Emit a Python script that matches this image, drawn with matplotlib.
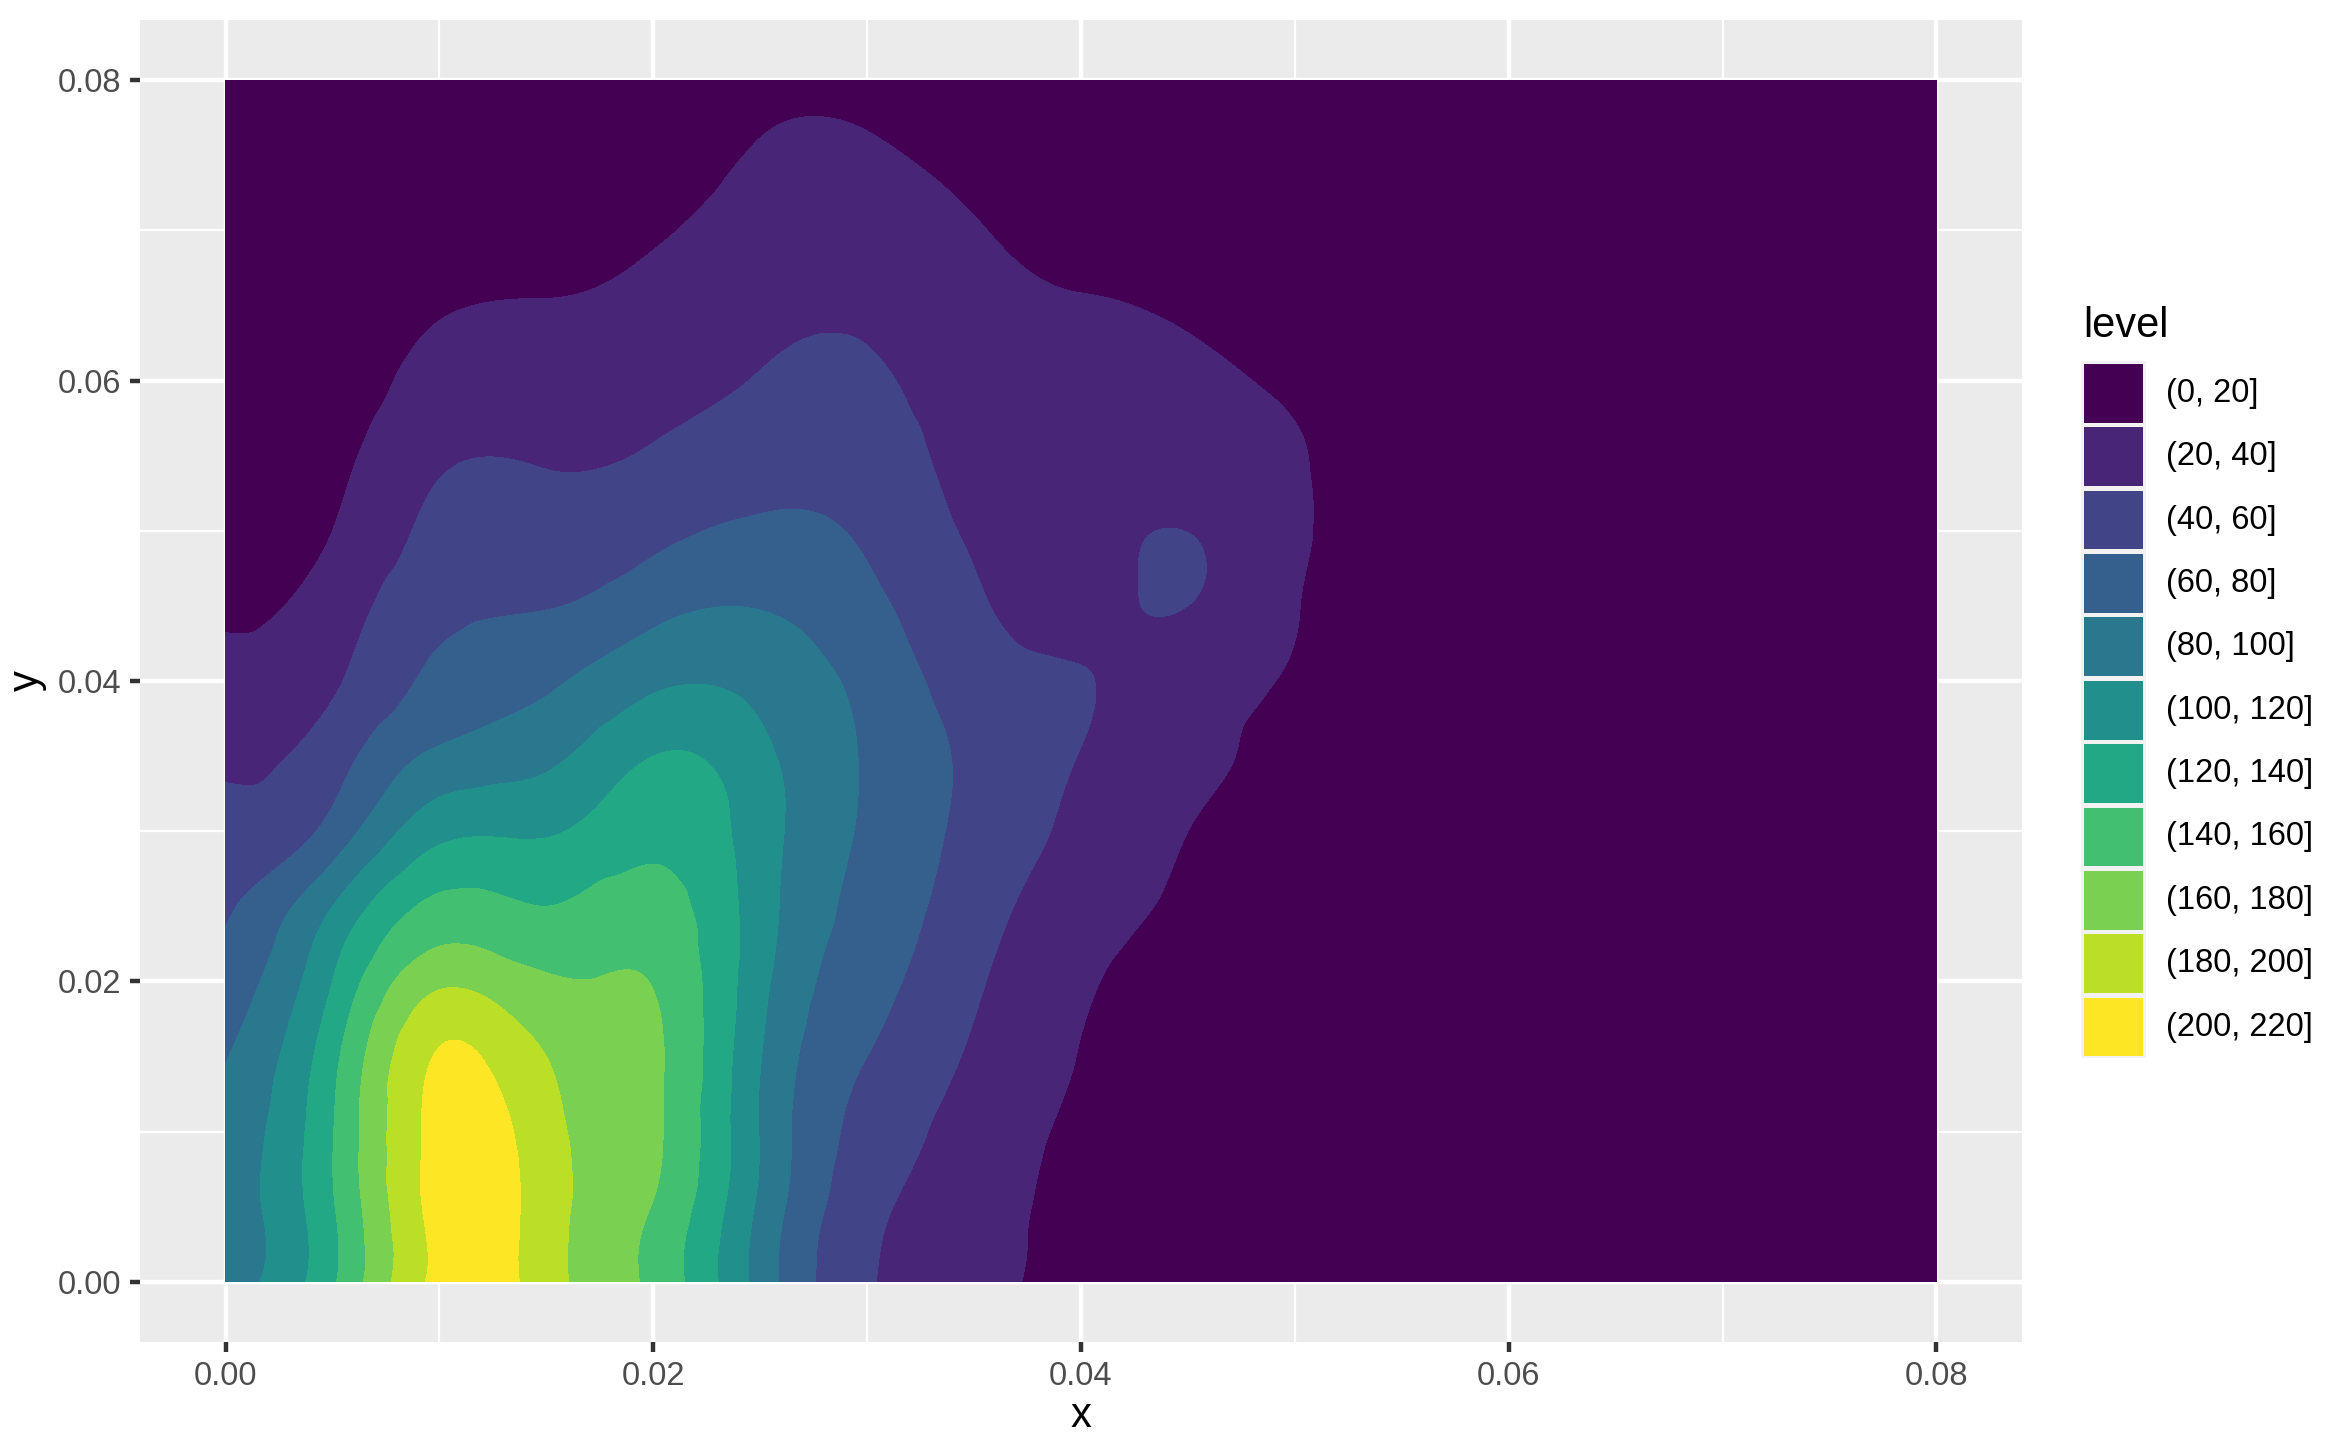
import numpy as np
import matplotlib
matplotlib.use("Agg")
import matplotlib.pyplot as plt
import matplotlib.tri as mtri
from matplotlib.patches import Rectangle

plt.rcParams['font.family'] = ['Liberation Sans', 'DejaVu Sans']

# density surface at a 0.005 grid
# one list per x column, values from y = 0.000 up to y = 0.080
y_nodes = [0.000, 0.005, 0.010, 0.015, 0.020, 0.025, 0.030, 0.035, 0.040,
           0.045, 0.050, 0.055, 0.060, 0.065, 0.070, 0.075, 0.080]
x_nodes = [0.000, 0.005, 0.010, 0.015, 0.020, 0.025, 0.030, 0.035, 0.040,
           0.045, 0.050, 0.055, 0.060, 0.065, 0.070, 0.075, 0.080]

dens_x000 = [90, 89, 86, 79, 68, 57, 47, 36, 26, 17, 11, 7, 4, 3, 2, 1, 1]
dens_x005 = [137, 138, 139, 134, 120, 100, 67, 51, 37, 29, 20, 14, 9, 6, 4, 3, 2]
dens_x010 = [206, 208, 207, 202, 176, 145, 114, 84, 65, 54, 45, 37, 27, 18, 11, 7, 4]
dens_x015 = [188, 189, 187, 180, 163, 140, 118, 95, 77, 59, 48, 38, 30, 21, 13, 8, 5]
dens_x020 = [155, 159, 164, 164, 159, 148, 134, 120, 96, 73, 55, 42, 33, 26, 18, 11, 6]
dens_x025 = [92, 96, 99, 101, 106, 109, 109, 105, 94, 79, 63, 51, 41, 34, 27, 21.5, 14]
dens_x030 = [42, 46, 53, 60, 67, 73, 77, 78, 74, 65, 57, 50, 43, 36, 29, 22.5, 15]
dens_x035 = [26, 27, 31, 37, 43, 49, 54, 55.5, 50, 43, 37, 33, 30, 26, 21, 15, 10]
dens_x040 = [13, 15, 17, 19.5, 22, 28, 35, 39.5, 40.8, 35, 33, 31, 27, 21, 16, 11, 7]
dens_x045 = [8, 9, 11, 13, 15, 17.5, 20, 25, 30, 40.0, 39.8, 31, 24, 18, 13, 9, 6]
dens_x050 = [5, 6, 7, 8, 9, 11, 13, 15, 18, 21, 23, 21.5, 17, 13, 9, 6, 4]
dens_x055 = [3, 4, 4, 5, 5, 6, 7, 8, 9, 11, 12, 11, 9, 7, 5, 4, 3]
dens_x060 = [2, 2, 2, 3, 3, 3, 4, 4, 5, 5, 6, 5, 4, 3, 3, 2, 2]
dens_x065 = [1, 1, 1, 1, 2, 2, 2, 2, 2, 3, 3, 3, 2, 2, 1, 1, 1]
dens_x070 = [1, 1, 1, 1, 1, 1, 1, 1, 1, 1, 1, 1, 1, 1, 1, 1, 1]
dens_x075 = [1, 1, 1, 1, 1, 1, 1, 1, 1, 1, 1, 1, 1, 1, 1, 1, 1]
dens_x080 = [1, 1, 1, 1, 1, 1, 1, 1, 1, 1, 1, 1, 1, 1, 1, 1, 1]

# extra readings around the peak, y = 0.000 .. 0.020
y_extra = [0.000, 0.005, 0.010, 0.015, 0.020]
dens_x0125 = [209, 210, 207, 196, 172]
dens_x0175 = [171, 173, 174, 172, 161]

level_breaks = [0, 20, 40, 60, 80, 100, 120, 140, 160, 180, 200, 220]
level_labels = ['(0, 20]', '(20, 40]', '(40, 60]', '(60, 80]', '(80, 100]',
                '(100, 120]', '(120, 140]', '(140, 160]', '(160, 180]',
                '(180, 200]', '(200, 220]']
level_colors = ['#440154', '#482576', '#414487', '#35608D', '#2A788E',
                '#21908C', '#22A884', '#43BF71', '#7AD151', '#BBDF27', '#FDE725']

x_breaks = [0.00, 0.02, 0.04, 0.06, 0.08]
y_breaks = [0.00, 0.02, 0.04, 0.06, 0.08]

# table of the surface (rows = y, cols = x)
Z = np.column_stack([dens_x000, dens_x005, dens_x010, dens_x015, dens_x020,
                     dens_x025, dens_x030, dens_x035, dens_x040, dens_x045,
                     dens_x050, dens_x055, dens_x060, dens_x065, dens_x070,
                     dens_x075, dens_x080]).astype(float)
X, Y = np.meshgrid(x_nodes, y_nodes)

px = np.concatenate([X.ravel(), np.full(len(y_extra), 0.0125), np.full(len(y_extra), 0.0175)])
py = np.concatenate([Y.ravel(), y_extra, y_extra])
pz = np.concatenate([Z.ravel(), dens_x0125, dens_x0175])

tri = mtri.Triangulation(px, py)
interp = mtri.CubicTriInterpolator(tri, pz, kind='min_E')
refiner = mtri.UniformTriRefiner(tri)
tri_f, z_f = refiner.refine_field(pz, triinterpolator=interp, subdiv=4)
z_f = np.clip(z_f, 0, 219.9)

W, H = 2330, 1451
fig = plt.figure(figsize=(W / 100, H / 100), dpi=100)
ax = fig.add_axes([140 / W, (H - 1342) / H, (2022 - 140) / W, (1342 - 20) / H])
ax.set_facecolor('#EBEBEB')

ax.tricontourf(tri_f, z_f, levels=level_breaks, colors=level_colors, zorder=2)

ax.set_xlim(-0.004, 0.084)
ax.set_ylim(-0.004, 0.084)
ax.set_xticks(x_breaks)
ax.set_yticks(y_breaks)
ax.set_xticklabels(['%.2f' % v for v in x_breaks])
ax.set_yticklabels(['%.2f' % v for v in y_breaks])
ax.set_xticks([0.01, 0.03, 0.05, 0.07], minor=True)
ax.set_yticks([0.01, 0.03, 0.05, 0.07], minor=True)
ax.grid(which='major', color='white', linewidth=3.2, zorder=0)
ax.grid(which='minor', color='white', linewidth=1.6, zorder=0)
ax.set_axisbelow(True)
for s in ax.spines.values():
    s.set_visible(False)
ax.tick_params(which='major', direction='out', length=7.5, width=3.2,
               color='#333333', labelcolor='#4D4D4D', labelsize=23.5, pad=6)
ax.tick_params(which='minor', length=0)

fig.text(1081 / W, 1 - 1416 / H, 'x', ha='center', va='center', fontsize=30)
fig.text(27 / W, 1 - 681 / H, 'y', ha='center', va='center', fontsize=30, rotation=90)

# legend, laid out in figure pixels
lax = fig.add_axes([0, 0, 1, 1])
lax.set_xlim(0, W)
lax.set_ylim(H, 0)
lax.axis('off')
key_left, key_top, key_w, key_h, key_step = 2083.5, 364, 59.5, 58.7, 63.37
lax.text(2083, 337, 'level', ha='left', va='baseline', fontsize=30)
n_keys = len(level_colors)
lax.add_patch(Rectangle((key_left - 2.5, key_top - 3), key_w + 5,
                        (n_keys - 1) * key_step + key_h + 5,
                        facecolor='#F2F2F2', edgecolor='none'))
for i, (c, lab) in enumerate(zip(level_colors, level_labels)):
    top = key_top + i * key_step
    lax.add_patch(Rectangle((key_left, top), key_w, key_h, facecolor=c, edgecolor='none'))
    lax.text(2166, top + key_h / 2, lab, ha='left', va='center', fontsize=23.5)

fig.savefig('out.png', dpi=100)
